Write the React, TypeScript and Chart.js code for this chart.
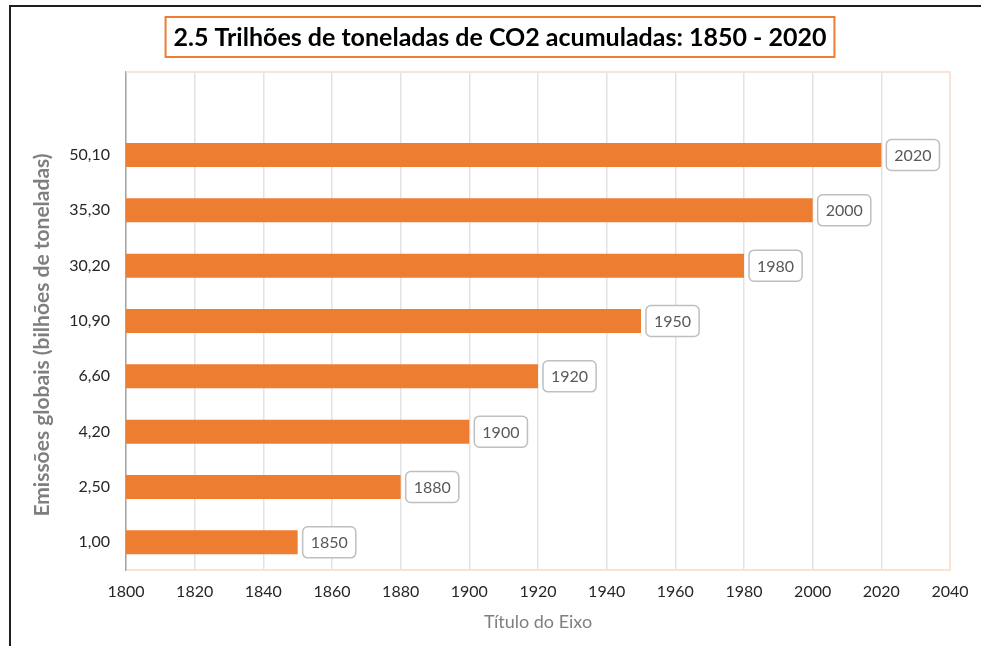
import React, { useEffect, useRef } from "react";
import { Chart, registerables } from "chart.js";

Chart.register(...registerables);

const categories = ["", "50,10", "35,30", "30,20", "10,90", "6,60", "4,20", "2,50", "1,00"];
const years: (number | null)[] = [null, 2020, 2000, 1980, 1950, 1920, 1900, 1880, 1850];
const xMin = 1800;
const xMax = 2040;
const xStep = 20;
const chartTitle = "2.5 Trilhões de toneladas de CO2 acumuladas: 1850 - 2020";
const yTitle = "Emissões globais (bilhões de toneladas)";
const xTitle = "Título do Eixo";

const FONT = "Lato";

const decor = {
  id: "decor",
  beforeDraw(chart: any) {
    const ctx = chart.ctx;
    ctx.save();
    ctx.fillStyle = "#ffffff";
    ctx.fillRect(0, 0, chart.width, chart.height);
    ctx.fillStyle = "#1f1f1f";
    ctx.fillRect(9, 5, 2, chart.height - 5);
    ctx.fillRect(9, 5, chart.width - 9, 2);
    ctx.restore();
  },
  afterDraw(chart: any) {
    const ctx = chart.ctx;
    const a = chart.chartArea;
    ctx.save();
    // plot area border
    ctx.strokeStyle = "#FBE3D4";
    ctx.lineWidth = 2;
    ctx.beginPath();
    ctx.moveTo(a.left, a.top);
    ctx.lineTo(a.right, a.top);
    ctx.lineTo(a.right, a.bottom);
    ctx.lineTo(a.left + 1, a.bottom);
    ctx.stroke();

    // y-axis title
    ctx.save();
    ctx.translate(42, 335);
    ctx.rotate(-Math.PI / 2);
    ctx.font = `bold 21px ${FONT}`;
    ctx.fillStyle = "#7F7F7F";
    ctx.textAlign = "center";
    ctx.textBaseline = "middle";
    ctx.fillText(yTitle, 0, 0);
    ctx.restore();

    // title with box
    ctx.font = `bold 25px ${FONT}`;
    ctx.textAlign = "center";
    ctx.textBaseline = "middle";
    const cx = 500;
    const cy = 38;
    const tw = ctx.measureText(chartTitle).width;
    ctx.fillStyle = "#000000";
    ctx.fillText(chartTitle, cx, cy);
    ctx.strokeStyle = "#ED7D31";
    ctx.lineWidth = 2;
    ctx.strokeRect(cx - tw / 2 - 8, 17, tw + 16, 40);

    // data labels
    const meta = chart.getDatasetMeta(0);
    ctx.font = `16px ${FONT}`;
    meta.data.forEach((bar: any, i: number) => {
      const v = years[i];
      if (v == null) return;
      const text = String(v);
      const w = ctx.measureText(text).width;
      const bw = w + 16;
      const bh = 31;
      const x0 = bar.x + 5;
      const y0 = bar.y - bh / 2;
      ctx.beginPath();
      ctx.roundRect(x0, y0, bw, bh, 5);
      ctx.fillStyle = "#ffffff";
      ctx.fill();
      ctx.strokeStyle = "#BFBFBF";
      ctx.lineWidth = 1.5;
      ctx.stroke();
      ctx.fillStyle = "#595959";
      ctx.textAlign = "center";
      ctx.textBaseline = "middle";
      ctx.fillText(text, x0 + bw / 2, bar.y + 1);
    });
    ctx.restore();
  },
};

export default function App() {
  const ref = useRef<HTMLCanvasElement | null>(null);
  useEffect(() => {
    if (!ref.current) return;
    const chart = new Chart(ref.current, {
      type: "bar",
      data: {
        labels: categories,
        datasets: [
          {
            data: years as any,
            backgroundColor: "#ED7D31",
            borderWidth: 0,
            barPercentage: 0.434,
            categoryPercentage: 1,
          },
        ],
      },
      options: {
        responsive: false,
        animation: false,
        indexAxis: "y",
        layout: { padding: { top: 72, right: 31, left: 0, bottom: 0 } },
        plugins: {
          legend: { display: false },
          title: { display: false },
          tooltip: { enabled: false },
        },
        scales: {
          x: {
            type: "linear",
            min: xMin,
            max: xMax,
            ticks: {
              stepSize: xStep,
              callback: (v: any) => String(v),
              color: "#262626",
              font: { family: FONT, size: 16 },
              padding: 12,
              maxRotation: 0,
            },
            grid: { color: "#E3E3E3", lineWidth: 1.5, drawTicks: false },
            border: { display: false },
            title: {
              display: true,
              text: xTitle,
              color: "#7F7F7F",
              font: { family: FONT, size: 18 },
              padding: { top: 0, bottom: 13 },
            },
            afterFit: (s: any) => {
              s.height = 76;
            },
          },
          y: {
            type: "category",
            ticks: {
              color: "#262626",
              font: { family: FONT, size: 16 },
              padding: 16,
            },
            grid: { display: false, drawTicks: false },
            border: { display: true, color: "#A6A6A6", width: 1.5 },
            title: { display: false },
            afterFit: (s: any) => {
              s.width = 126;
            },
          },
        },
      } as any,
      plugins: [decor],
    });
    return () => chart.destroy();
  }, []);
  return (
    <div style={{ position: "fixed", left: 0, top: 0, width: 981, height: 646, background: "#fff" }}>
      <canvas ref={ref} width={981} height={646} style={{ display: "block" }} />
    </div>
  );
}
